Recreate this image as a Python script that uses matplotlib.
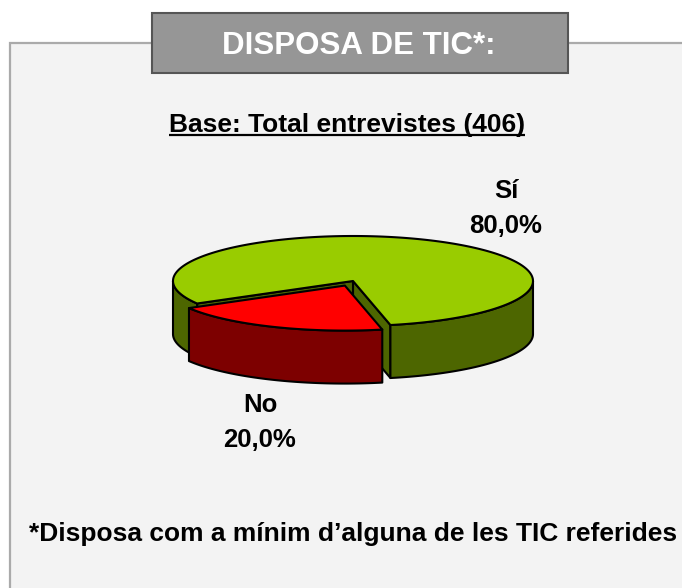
import matplotlib
matplotlib.use("Agg")
import matplotlib.pyplot as plt
import numpy as np
from matplotlib.patches import Polygon, Rectangle

plt.rcParams["font.family"] = ["Liberation Sans", "DejaVu Sans"]

# data
labels = ["Sí", "No"]
values = [80.0, 20.0]
top_colors = ["#99cc00", "#ff0000"]
side_colors = ["#4d6600", "#7d0000"]
explode = [0.0, 20.0]
title = "DISPOSA DE TIC*:"
subtitle = "Base: Total entrevistes (406)"
footnote = "*Disposa com a mínim d\u2019alguna de les TIC referides"

# layout (pixels, y down)
W, H = 682, 588
CX, CY = 353, 281          # pie centre
RA, RB = 180, 45           # ellipse semi axes
DEPTH = 53
START = 210                # angle where "No" starts, slices go counter-clockwise
label_pos = {"Sí": (506, 198), "No": (260, 412)}
LW = 1.5


def rim(theta, dx=0.0, dy=0.0, drop=0.0):
    t = np.radians(theta)
    return np.column_stack([CX + RA * np.cos(t) + dx, CY - RB * np.sin(t) + dy + drop])


def main():
    fig = plt.figure(figsize=(W / 100, H / 100), dpi=100)
    fig.patch.set_facecolor("white")
    ax = fig.add_axes([0, 0, 1, 1])
    ax.set_xlim(0, W)
    ax.set_ylim(H, 0)
    ax.axis("off")

    # panel frame and title box
    ax.add_patch(Rectangle((10, 43), 720, 600, facecolor="#f3f3f3",
                           edgecolor="#aaaaaa", lw=1.6, zorder=0))
    ax.add_patch(Rectangle((152, 13), 416, 60, facecolor="#969696",
                           edgecolor="#555555", lw=1.5, zorder=1))
    ax.text(359, 54, title, ha="center", va="baseline", color="white",
            fontsize=22.5, fontweight="bold", zorder=2)

    sub = ax.text(347, 132, subtitle, ha="center", va="baseline",
                  fontsize=19, fontweight="bold", zorder=2)

    # slices: No goes from START, Sí follows
    order = [1, 0]
    spans = {}
    a0 = START
    for i in order:
        sweep = values[i] / sum(values) * 360
        spans[i] = (a0, a0 + sweep)
        a0 += sweep

    def mid_sin(i):
        t0, t1 = spans[i]
        return np.sin(np.radians((t0 + t1) / 2))

    for i in sorted(spans, key=mid_sin, reverse=True):
        t0, t1 = spans[i]
        mid = np.radians((t0 + t1) / 2)
        dx = explode[i] * np.cos(mid)
        dy = -explode[i] * np.sin(mid) * RB / RA
        c = np.array([CX + dx, CY + dy])
        z = 3 if explode[i] == 0 else 6

        # radial walls
        for ang, ok in ((t0, np.cos(np.radians(t0)) > 0), (t1, np.cos(np.radians(t1)) < 0)):
            if not ok:
                continue
            r = rim(np.array([ang]), dx, dy)[0]
            verts = [c, r, r + [0, DEPTH], c + [0, DEPTH]]
            ax.add_patch(Polygon(verts, closed=True, facecolor=side_colors[i],
                                 edgecolor="black", lw=LW, joinstyle="round", zorder=z))

        # outer side (front half only)
        for k in (0, 360):
            lo, hi = max(t0, 180 + k), min(t1, 360 + k)
            if hi <= lo:
                continue
            ts = np.linspace(lo, hi, 120)
            verts = np.vstack([rim(ts, dx, dy), rim(ts[::-1], dx, dy, DEPTH)])
            ax.add_patch(Polygon(verts, closed=True, facecolor=side_colors[i],
                                 edgecolor="black", lw=LW, joinstyle="round", zorder=z + 1))

        # top face
        ts = np.linspace(t0, t1, 240)
        verts = np.vstack([c, rim(ts, dx, dy)])
        ax.add_patch(Polygon(verts, closed=True, facecolor=top_colors[i],
                             edgecolor="black", lw=LW, joinstyle="round", zorder=z + 2))

    for lab, val in zip(labels, values):
        x, y = label_pos[lab]
        ax.text(x, y, lab, ha="center", va="baseline", fontsize=18.5,
                fontweight="bold", zorder=10)
        ax.text(x, y + 35, f"{val:.1f}".replace(".", ",") + "%", ha="center",
                va="baseline", fontsize=18.5, fontweight="bold", zorder=10)

    ax.text(353, 541, footnote, ha="center", va="baseline", fontsize=19,
            fontweight="bold", zorder=10)

    # underline the base text
    fig.canvas.draw()
    bb = sub.get_window_extent()
    inv = ax.transData.inverted()
    x0 = inv.transform((bb.x0, 0))[0]
    x1 = inv.transform((bb.x1, 0))[0]
    ax.plot([x0, x1], [135, 135], color="black", lw=1.6, zorder=10,
            solid_capstyle="butt")

    fig.savefig("out.png", dpi=100, facecolor="white")
    plt.close(fig)


if __name__ == "__main__":
    main()
